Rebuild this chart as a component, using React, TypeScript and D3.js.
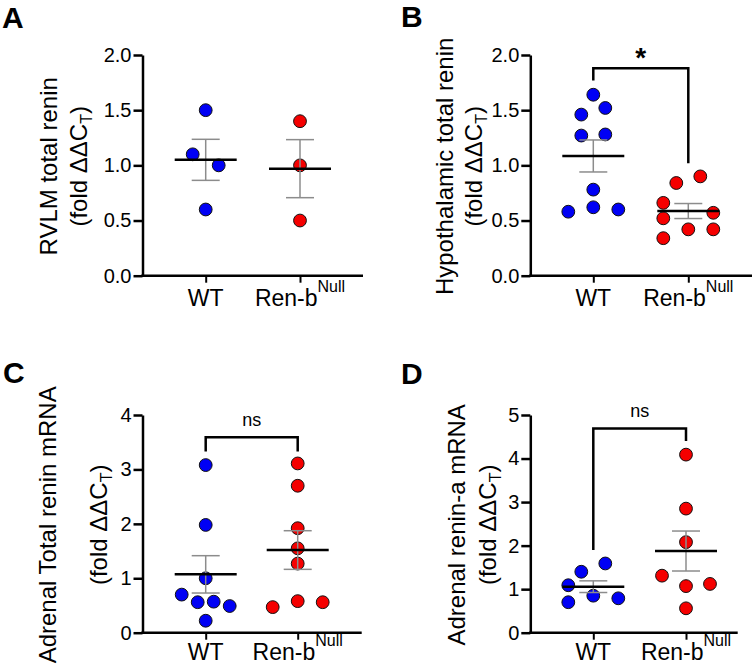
import React, { useEffect, useRef } from 'react';
import * as d3 from 'd3';

const FONT = '"Liberation Sans", Arial, Helvetica, sans-serif';
const BLUE = '#0000f5';
const RED = '#f50000';

const groups = ['WT', 'Ren-b'];

// A - RVLM total renin
const rvlmWT = [1.5, 1.1, 1.0, 0.6];
const rvlmNull = [1.4, 1.0, 0.5];
const rvlmMean = [1.05, 0.97];
const rvlmSem = [0.186, 0.263];
const rvlmTicks = [0, 0.5, 1.0, 1.5, 2.0];

// B - hypothalamic total renin
const hypoWT = [1.64, 1.46, 1.52, 1.27, 1.28, 0.78, 0.58, 0.62, 0.6];
const hypoNull = [0.84, 0.9, 0.66, 0.57, 0.52, 0.42, 0.42, 0.34];
const hypoMean = [1.085, 0.586];
const hypoSem = [0.145, 0.068];
const hypoTicks = [0, 0.5, 1.0, 1.5, 2.0];
const hypoBracket = [1.77, 1.88, 1.02]; // left end, top, right end

// C - adrenal total renin mRNA
const adrTotalWT = [3.08, 1.98, 1.0, 0.7, 0.56, 0.57, 0.49, 0.22];
const adrTotalNull = [3.11, 2.7, 1.92, 1.55, 1.27, 0.58, 0.47, 0.56];
const adrTotalMean = [1.072, 1.519];
const adrTotalSem = [0.343, 0.355];
const adrTotalTicks = [0, 1, 2, 3, 4];
const adrTotalBracket = [3.33, 3.59, 3.33];

// D - adrenal renin-a mRNA
const adrAWT = [1.4, 1.59, 1.09, 0.85, 0.7, 0.79];
const adrANull = [4.09, 2.85, 2.08, 1.31, 1.07, 1.12, 0.56];
const adrAMean = [1.057, 1.876];
const adrASem = [0.134, 0.459];
const adrATicks = [0, 1, 2, 3, 4, 5];
const adrABracket = [1.9, 4.69, 4.4];

// horizontal scatter of the points (px), layout only
const jitter = {
    A: [[0, -13, 13, 0], [0, 0, 0]],
    B: [[0, -12, 12, -12, 12, 0, -25, 0, 25], [-12, 12, -25, 25, -25, 0, 25, -25]],
    C: [[0, 0, 0, -24, -8, 8, 24, 0], [0, 0, 0, 0, 0, 0, -25, 25]],
    D: [[-12, 12, -25, 0, -25, 25], [0, 0, 0, -24, 0, 24, 0]],
};

const panels = [
    {
        key: 'A', letter: [2, 28], label: ['RVLM total renin'], labelX: [57, 87], xLab: 30,
        left: 142.5, right: 363, top: 55, bottom: 275.7, xs: [205.7, 300],
        max: 2, ticks: rvlmTicks, fmt: '.1f', values: [rvlmWT, rvlmNull], mean: rvlmMean, sem: rvlmSem,
    },
    {
        key: 'B', letter: [401, 27], label: ['Hypothalamic total renin'], labelX: [453, 482], xLab: 30,
        left: 530.3, right: 752, top: 55, bottom: 275.7, xs: [593.3, 688.3],
        max: 2, ticks: hypoTicks, fmt: '.1f', values: [hypoWT, hypoNull], mean: hypoMean, sem: hypoSem,
        bracket: hypoBracket, sig: '*',
    },
    {
        key: 'C', letter: [3, 383], label: ['Adrenal Total renin mRNA'], labelX: [56, 107], xLab: 27.5,
        left: 142.5, right: 361.7, top: 415, bottom: 632.7, xs: [205.7, 297.7],
        max: 4, ticks: adrTotalTicks, fmt: 'd', values: [adrTotalWT, adrTotalNull], mean: adrTotalMean, sem: adrTotalSem,
        bracket: adrTotalBracket, sig: 'ns',
    },
    {
        key: 'D', letter: [401, 384], label: ['Adrenal renin-a mRNA'], labelX: [465, 496], xLab: 27.5,
        left: 530.3, right: 737.7, top: 415, bottom: 632.7, xs: [593.3, 686],
        max: 5, ticks: adrATicks, fmt: 'd', values: [adrAWT, adrANull], mean: adrAMean, sem: adrASem,
        bracket: adrABracket, sig: 'ns',
    },
];

const drawPanel = (svg, p) => {
    const g = svg.append('g').attr('class', `panel-${p.key}`);
    const y = d3.scaleLinear().domain([0, p.max]).range([p.bottom, p.top]);
    const x = d3.scalePoint().domain(groups).range(p.xs);

    // panel letter
    g.append('text')
        .attr('x', p.letter[0]).attr('y', p.letter[1])
        .attr('font-family', FONT).attr('font-size', 30).attr('font-weight', 'bold')
        .text(p.key);

    // y axis
    const yAxis = d3.axisLeft(y)
        .tickValues(p.ticks)
        .tickFormat(d3.format(p.fmt))
        .tickSize(9)
        .tickSizeOuter(0)
        .tickPadding(2);
    const ya = g.append('g').attr('transform', `translate(${p.left},0)`).call(yAxis);
    ya.attr('font-family', FONT).attr('font-size', 20);
    ya.selectAll('path, line').attr('stroke', '#000').attr('stroke-width', 2.5);
    ya.selectAll('text').attr('fill', '#000');

    // x axis line + ticks
    g.append('line')
        .attr('x1', p.left - 1.25).attr('x2', p.right)
        .attr('y1', p.bottom).attr('y2', p.bottom)
        .attr('stroke', '#000').attr('stroke-width', 2.5);
    const xAxis = d3.axisBottom(x).tickSize(7).tickSizeOuter(0).tickFormat(() => '');
    const xa = g.append('g').attr('transform', `translate(0,${p.bottom})`).call(xAxis);
    xa.select('.domain').remove();
    xa.selectAll('line').attr('stroke', '#000').attr('stroke-width', 2);

    // x labels
    g.append('text')
        .attr('x', x('WT')).attr('y', p.bottom + p.xLab)
        .attr('text-anchor', 'middle').attr('font-family', FONT).attr('font-size', 23)
        .text('WT');
    const rl = g.append('text')
        .attr('x', x('Ren-b')).attr('y', p.bottom + p.xLab)
        .attr('text-anchor', 'middle').attr('font-family', FONT).attr('font-size', 23);
    rl.append('tspan').text('Ren-b');
    rl.append('tspan').attr('font-size', 16).attr('dy', -14).text('Null');

    // y label, two lines
    const cy = (p.top + p.bottom) / 2 + 1;
    g.append('text')
        .attr('transform', `translate(${p.labelX[0]},${cy}) rotate(-90)`)
        .attr('text-anchor', 'middle').attr('font-family', FONT).attr('font-size', 24)
        .text(p.label[0]);
    const l2 = g.append('text')
        .attr('transform', `translate(${p.labelX[1]},${cy}) rotate(-90)`)
        .attr('text-anchor', 'middle').attr('font-family', FONT).attr('font-size', 24);
    l2.append('tspan').text('(fold \u0394\u0394C');
    l2.append('tspan').attr('font-size', 16).attr('dy', 5).text('T');
    l2.append('tspan').attr('dy', -5).text(')');

    // points
    const jit = jitter[p.key];
    groups.forEach((grp, gi) => {
        g.append('g').selectAll('circle')
            .data(p.values[gi])
            .join('circle')
            .attr('cx', (d, i) => x(grp) + jit[gi][i])
            .attr('cy', (d) => y(d))
            .attr('r', 6.4)
            .attr('fill', gi === 0 ? BLUE : RED)
            .attr('stroke', '#111')
            .attr('stroke-width', 1);
    });

    // mean +/- SEM
    groups.forEach((grp, gi) => {
        const cx = x(grp);
        const m = p.mean[gi];
        const s = p.sem[gi];
        const eb = g.append('g').attr('stroke', '#8c8c8c').attr('stroke-width', 1.5);
        eb.append('line').attr('x1', cx).attr('x2', cx).attr('y1', y(m + s)).attr('y2', y(m - s));
        eb.append('line').attr('x1', cx - 14).attr('x2', cx + 14).attr('y1', y(m + s)).attr('y2', y(m + s));
        eb.append('line').attr('x1', cx - 14).attr('x2', cx + 14).attr('y1', y(m - s)).attr('y2', y(m - s));
        g.append('line')
            .attr('x1', cx - 31).attr('x2', cx + 31)
            .attr('y1', y(m)).attr('y2', y(m))
            .attr('stroke', '#000').attr('stroke-width', 2.5);
    });

    // significance bracket
    if (p.bracket) {
        const [a, top, b] = p.bracket;
        const path = d3.path();
        path.moveTo(x('WT'), y(a));
        path.lineTo(x('WT'), y(top));
        path.lineTo(x('Ren-b'), y(top));
        path.lineTo(x('Ren-b'), y(b));
        g.append('path').attr('d', path.toString())
            .attr('fill', 'none').attr('stroke', '#000').attr('stroke-width', 2.5);
        const mid = (x('WT') + x('Ren-b')) / 2;
        if (p.sig === '*') {
            g.append('text')
                .attr('x', mid).attr('y', y(top) - 1)
                .attr('text-anchor', 'middle').attr('font-family', FONT)
                .attr('font-size', 28).attr('font-weight', 'bold')
                .text('*');
        } else {
            g.append('text')
                .attr('x', mid).attr('y', y(top) - 11)
                .attr('text-anchor', 'middle').attr('font-family', FONT).attr('font-size', 18)
                .text(p.sig);
        }
    }
};

const App = () => {
    const ref = useRef(null);

    useEffect(() => {
        const svg = d3.select(ref.current);
        svg.selectAll('*').remove();
        panels.forEach((p) => drawPanel(svg, p));
    }, []);

    return (
        <svg
            ref={ref}
            width={752}
            height={666}
            style={{ position: 'absolute', left: 0, top: 0, background: '#fff' }}
        />
    );
};

export default App;
